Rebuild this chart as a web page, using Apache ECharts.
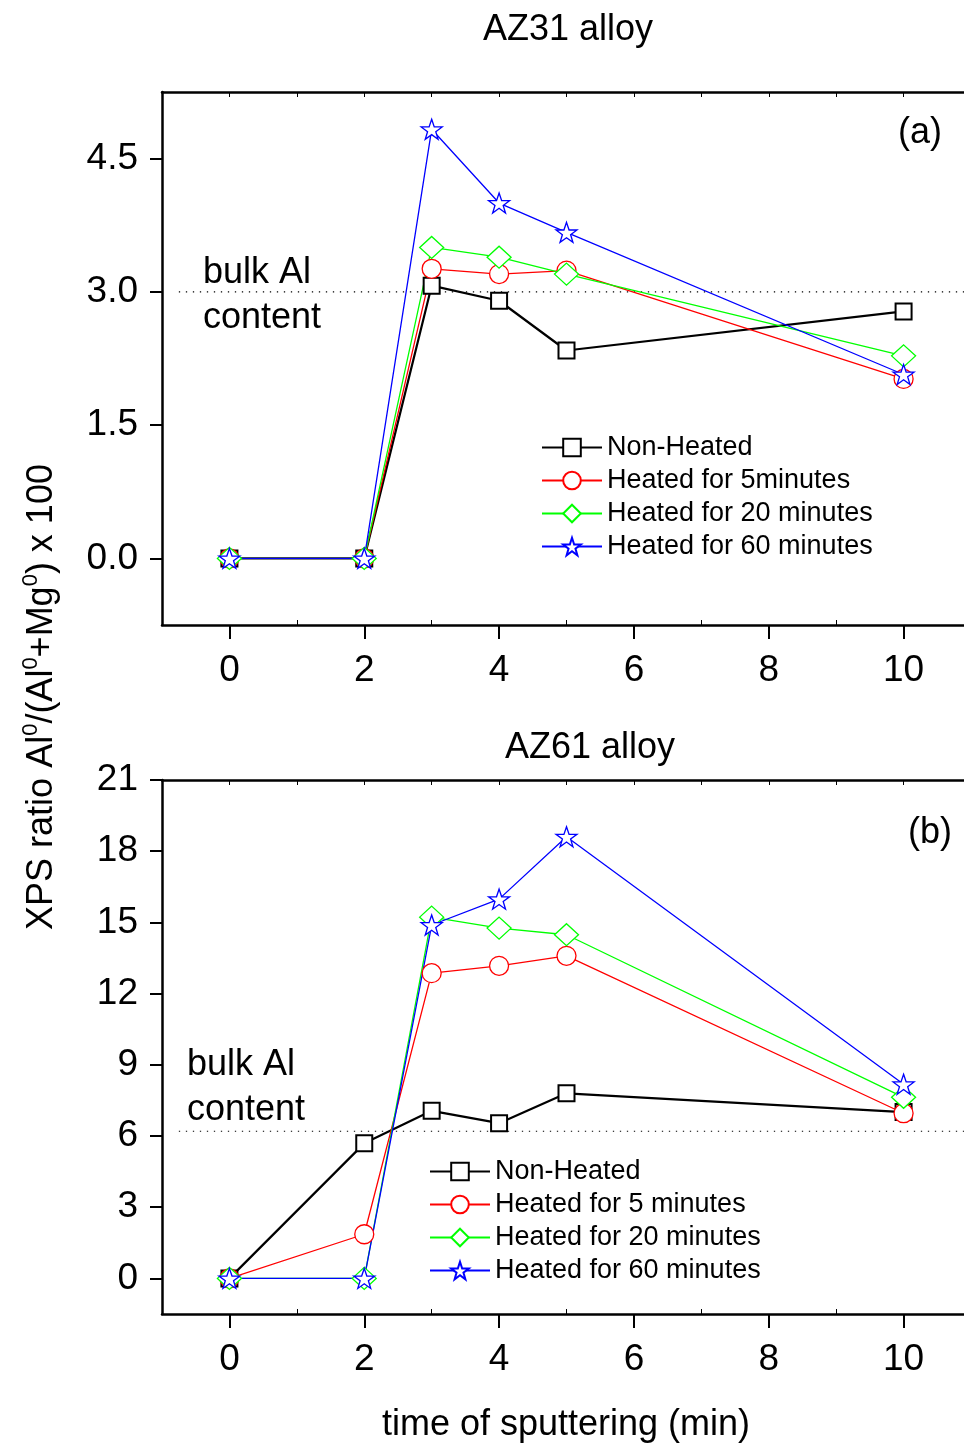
<!DOCTYPE html>
<html>
<head>
<meta charset="utf-8">
<script src="https://cdn.jsdelivr.net/npm/echarts@6/dist/echarts.min.js"></script>
<style>
html,body{margin:0;padding:0;background:#fff;}
#chart{width:964px;height:1446px;}
</style>
</head>
<body>
<div id="chart"></div>
<script>
// ---- data ----
const times = [0, 2, 3, 4, 5, 10];
const xTicks = [0, 2, 4, 6, 8, 10];
const xMinorTop = [0, 1, 2, 3, 4, 5, 6, 7, 8, 9, 10];
const xMinorBottom = [1, 3, 5, 7, 9];
const yTicksA = [0, 1.5, 3, 4.5];
const yTicksB = [0, 3, 6, 9, 12, 15, 18, 21];

const namesA = ["Non-Heated", "Heated for 5minutes", "Heated for 20 minutes", "Heated for 60 minutes"];
const namesB = ["Non-Heated", "Heated for 5 minutes", "Heated for 20 minutes", "Heated for 60 minutes"];

const aNonHeated = [0, 0, 3.07, 2.90, 2.34, 2.78];
const aHeated5   = [0, 0, 3.26, 3.20, 3.24, 2.02];
const aHeated20  = [0, 0, 3.50, 3.39, 3.20, 2.28];
const aHeated60  = [0, 0, 4.83, 4.00, 3.67, 2.07];

const bNonHeated = [0, 5.69, 7.06, 6.54, 7.80, 7.01];
const bHeated5   = [0, 1.86, 12.86, 13.17, 13.59, 6.96];
const bHeated20  = [0, 0, 15.22, 14.76, 14.48, 7.63];
const bHeated60  = [0, 0, 14.89, 15.98, 18.61, 8.18];

const bulkA = 3.0;
const bulkB = 6.2;
const bulkSpan = [-0.75, 11];

// ---- styling ----
const FONT = "'Liberation Sans', Arial, sans-serif";
const STAR = 'path://M50,3 L61.8,38.2 L98,38.2 L68.8,59.9 L79.4,95 L50,73.5 L20.6,95 L31.2,59.9 L2,38.2 L38.2,38.2 Z';
const styles = [
  {color: '#000000', symbol: 'rect', size: [16, 16], lw: 2.2, bw: 2},
  {color: '#ff0000', symbol: 'circle', size: 19, lw: 1.3, bw: 1.3},
  {color: '#00ff00', symbol: 'diamond', size: [24, 22], lw: 1.3, bw: 1.3},
  {color: '#0000ff', symbol: STAR, size: [21, 20], lw: 1.3, bw: 1.3}
];

function pairs(ys) { return times.map((t, i) => [t, ys[i]]); }

function mkSeries(name, ys, s, gi) {
  return {
    type: 'line', name: name, data: pairs(ys),
    xAxisIndex: gi * 3, yAxisIndex: gi,
    symbol: s.symbol, symbolSize: s.size,
    lineStyle: {color: s.color, width: s.lw},
    itemStyle: {color: '#ffffff', borderColor: s.color, borderWidth: s.bw},
    emphasis: {disabled: true},
    animation: false
  };
}

function refLine(y, gi) {
  return {
    type: 'line', name: 'bulk' + gi, data: [[bulkSpan[0], y], [bulkSpan[1], y]],
    xAxisIndex: gi * 3, yAxisIndex: gi, symbol: 'none', silent: true,
    lineStyle: {color: '#000', width: 1.2, type: [1.3, 5.7]},
    animation: false, z: 1
  };
}

const axisLineStyle = {show: true, onZero: false, lineStyle: {color: '#000', width: 2.5}};

function xAxes(gi) {
  return [
    {
      gridIndex: gi, type: 'value', min: -1, max: 11, position: 'bottom',
      axisLine: axisLineStyle,
      axisTick: {show: true, inside: false, length: 14, customValues: xTicks, lineStyle: {color: '#000', width: 2}},
      axisLabel: {show: true, customValues: xTicks, fontSize: 37, fontFamily: FONT, color: '#000', margin: 27},
      splitLine: {show: false}
    },
    {
      gridIndex: gi, type: 'value', min: -1, max: 11, position: 'bottom',
      axisLine: {show: false, onZero: false},
      axisTick: {show: true, inside: true, length: 5, customValues: xMinorBottom, lineStyle: {color: '#000', width: 1}},
      axisLabel: {show: false}, splitLine: {show: false}
    },
    {
      gridIndex: gi, type: 'value', min: -1, max: 11, position: 'top',
      axisLine: axisLineStyle,
      axisTick: {show: true, inside: true, length: 5, customValues: xMinorTop, lineStyle: {color: '#000', width: 1}},
      axisLabel: {show: false}, splitLine: {show: false}
    }
  ];
}

function yAxis(gi, min, max, ticks, fmt) {
  return {
    gridIndex: gi, type: 'value', min: min, max: max, position: 'left',
    axisLine: axisLineStyle,
    axisTick: {show: true, inside: false, length: 12, customValues: ticks, lineStyle: {color: '#000', width: 2}},
    axisLabel: {show: true, customValues: ticks, fontSize: 37, fontFamily: FONT, color: '#000', margin: 24, formatter: fmt},
    splitLine: {show: false}
  };
}

function legend(names, left, top) {
  return {
    orient: 'vertical', left: left, top: top, data: names,
    itemWidth: 60, itemHeight: 22, itemGap: 6,
    itemStyle: {color: '#ffffff'},
    textStyle: {fontSize: 27, fontFamily: FONT, color: '#000', lineHeight: 27},
    selectedMode: false
  };
}

function txt(x, y, text, size, align) {
  return {type: 'text', x: x, y: y, silent: true,
    style: {text: text, fontSize: size, fontFamily: FONT, fill: '#000', align: align || 'center', verticalAlign: 'middle'}};
}

const series = [];
[aNonHeated, aHeated5, aHeated20, aHeated60].forEach((ys, i) => series.push(mkSeries(namesA[i], ys, styles[i], 0)));
[bNonHeated, bHeated5, bHeated20, bHeated60].forEach((ys, i) => series.push(mkSeries(namesB[i], ys, styles[i], 1)));
series.unshift(refLine(bulkA, 0), refLine(bulkB, 1));

const option = {
  backgroundColor: '#fff',
  animation: false,
  grid: [
    {left: 162, top: 92, width: 809, height: 533, outerBoundsMode: 'none', containLabel: false},
    {left: 162, top: 780, width: 809, height: 534, outerBoundsMode: 'none', containLabel: false}
  ],
  xAxis: xAxes(0).concat(xAxes(1)),
  yAxis: [
    yAxis(0, -0.75, 5.25, yTicksA, v => v.toFixed(1)),
    yAxis(1, -1.5, 21, yTicksB, v => String(Math.round(v)))
  ],
  legend: [legend(namesA, 536, 429), legend(namesB, 424, 1153)],
  series: series,
  graphic: [
    txt(568, 30, 'AZ31 alloy', 36),
    txt(590, 748, 'AZ61 alloy', 36),
    txt(920, 133, '(a)', 36),
    txt(930, 833, '(b)', 36),
    txt(203, 273, 'bulk Al', 36, 'left'),
    txt(203, 318, 'content', 36, 'left'),
    txt(187, 1065, 'bulk Al', 36, 'left'),
    txt(187, 1110, 'content', 36, 'left'),
    txt(566, 1425, 'time of sputtering (min)', 36),
    {
      type: 'text', x: 40, y: 697, rotation: Math.PI / 2, silent: true,
      style: {
        text: '{n|XPS ratio Al}{s|0}{n|/(Al}{s|0}{n|+Mg}{s|0}{n|) x 100}',
        align: 'center', verticalAlign: 'middle', fill: '#000',
        fontFamily: FONT, fontSize: 36,
        rich: {
          n: {fontSize: 36, fontFamily: FONT, fill: '#000', lineHeight: 40, verticalAlign: 'bottom'},
          s: {fontSize: 22, fontFamily: FONT, fill: '#000', lineHeight: 40, verticalAlign: 'top', padding: [0, 0, 14, 0]}
        }
      }
    }
  ]
};

const chart = echarts.init(document.getElementById('chart'), null, {renderer: 'canvas'});
chart.setOption(option);
</script>
</body>
</html>
